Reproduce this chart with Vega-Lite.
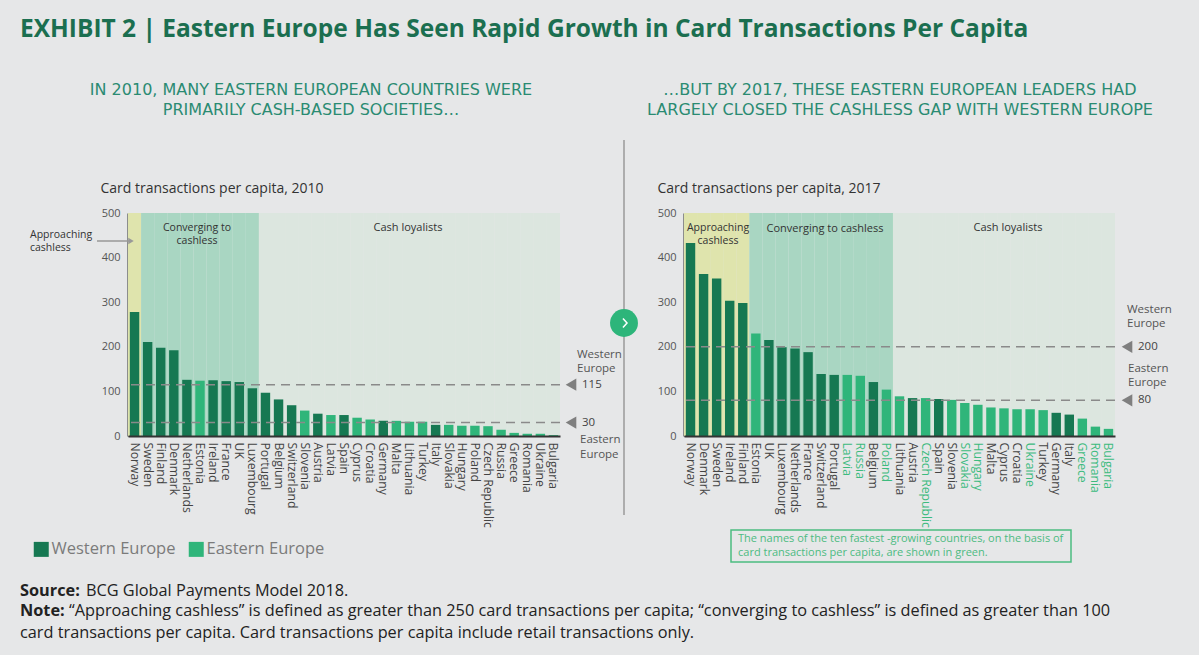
{
  "$schema": "https://vega.github.io/schema/vega-lite/v6.json",
  "background": "#e6e7e8",
  "padding": {"left": 20, "top": 16, "right": 27, "bottom": 13},
  "title": {"text": "EXHIBIT 2 | Eastern Europe Has Seen Rapid Growth in Card Transactions Per Capita", "anchor": "start", "font": "Open Sans", "fontSize": 24.5, "fontWeight": "bold", "color": "#1b6f50", "offset": 40},
  "config": {
    "font": "Open Sans",
    "view": {"stroke": null},
    "axisX": {"title": null, "labelAngle": 90, "labelAlign": "left", "labelBaseline": "middle", "ticks": false, "labelPadding": 6, "labelFontSize": 12.2, "labelColor": "#444", "domainColor": "#333", "domainWidth": 2, "labelLimit": 200, "labelFont": "Open Sans"},
    "axisY": {"values": [0, 100, 200, 300, 400, 500], "titleAngle": 0, "titleAlign": "left", "titleBaseline": "alphabetic", "titleY": -21, "titleFontSize": 14, "titleFontWeight": "normal", "titleColor": "#333", "titleFont": "Open Sans", "labelFontSize": 11, "labelColor": "#555", "labelPadding": 8, "ticks": false, "grid": false, "domainColor": "#333", "domainWidth": 2}
  },
  "datasets": {
    "y2010": [
      {"country": "Norway", "value": 278, "region": "Western Europe", "zone": "Approaching cashless"},
      {"country": "Sweden", "value": 211, "region": "Western Europe", "zone": "Converging to cashless"},
      {"country": "Finland", "value": 198, "region": "Western Europe", "zone": "Converging to cashless"},
      {"country": "Denmark", "value": 192, "region": "Western Europe", "zone": "Converging to cashless"},
      {"country": "Netherlands", "value": 126, "region": "Western Europe", "zone": "Converging to cashless"},
      {"country": "Estonia", "value": 124, "region": "Eastern Europe", "zone": "Converging to cashless"},
      {"country": "Ireland", "value": 125, "region": "Western Europe", "zone": "Converging to cashless"},
      {"country": "France", "value": 123, "region": "Western Europe", "zone": "Converging to cashless"},
      {"country": "UK", "value": 121, "region": "Western Europe", "zone": "Converging to cashless"},
      {"country": "Luxembourg", "value": 107, "region": "Western Europe", "zone": "Converging to cashless"},
      {"country": "Portugal", "value": 97, "region": "Western Europe", "zone": "Cash loyalists"},
      {"country": "Belgium", "value": 82, "region": "Western Europe", "zone": "Cash loyalists"},
      {"country": "Switzerland", "value": 69, "region": "Western Europe", "zone": "Cash loyalists"},
      {"country": "Slovenia", "value": 57, "region": "Eastern Europe", "zone": "Cash loyalists"},
      {"country": "Austria", "value": 50, "region": "Western Europe", "zone": "Cash loyalists"},
      {"country": "Latvia", "value": 47, "region": "Eastern Europe", "zone": "Cash loyalists"},
      {"country": "Spain", "value": 47, "region": "Western Europe", "zone": "Cash loyalists"},
      {"country": "Cyprus", "value": 41, "region": "Eastern Europe", "zone": "Cash loyalists"},
      {"country": "Croatia", "value": 37, "region": "Eastern Europe", "zone": "Cash loyalists"},
      {"country": "Germany", "value": 34, "region": "Western Europe", "zone": "Cash loyalists"},
      {"country": "Malta", "value": 34, "region": "Eastern Europe", "zone": "Cash loyalists"},
      {"country": "Lithuania", "value": 32, "region": "Eastern Europe", "zone": "Cash loyalists"},
      {"country": "Turkey", "value": 32, "region": "Eastern Europe", "zone": "Cash loyalists"},
      {"country": "Italy", "value": 25, "region": "Western Europe", "zone": "Cash loyalists"},
      {"country": "Slovakia", "value": 25, "region": "Eastern Europe", "zone": "Cash loyalists"},
      {"country": "Hungary", "value": 23, "region": "Eastern Europe", "zone": "Cash loyalists"},
      {"country": "Poland", "value": 23, "region": "Eastern Europe", "zone": "Cash loyalists"},
      {"country": "Czech Republic", "value": 22, "region": "Eastern Europe", "zone": "Cash loyalists"},
      {"country": "Russia", "value": 14, "region": "Eastern Europe", "zone": "Cash loyalists"},
      {"country": "Greece", "value": 7, "region": "Eastern Europe", "zone": "Cash loyalists"},
      {"country": "Romania", "value": 5, "region": "Eastern Europe", "zone": "Cash loyalists"},
      {"country": "Ukraine", "value": 5, "region": "Eastern Europe", "zone": "Cash loyalists"},
      {"country": "Bulgaria", "value": 2, "region": "Eastern Europe", "zone": "Cash loyalists"}
    ],
    "y2017": [
      {"country": "Norway", "value": 433, "region": "Western Europe", "zone": "Approaching cashless", "fastGrowing": false},
      {"country": "Denmark", "value": 363, "region": "Western Europe", "zone": "Approaching cashless", "fastGrowing": false},
      {"country": "Sweden", "value": 353, "region": "Western Europe", "zone": "Approaching cashless", "fastGrowing": false},
      {"country": "Ireland", "value": 303, "region": "Western Europe", "zone": "Approaching cashless", "fastGrowing": false},
      {"country": "Finland", "value": 298, "region": "Western Europe", "zone": "Approaching cashless", "fastGrowing": false},
      {"country": "Estonia", "value": 230, "region": "Eastern Europe", "zone": "Converging to cashless", "fastGrowing": false},
      {"country": "UK", "value": 215, "region": "Western Europe", "zone": "Converging to cashless", "fastGrowing": false},
      {"country": "Luxembourg", "value": 199, "region": "Western Europe", "zone": "Converging to cashless", "fastGrowing": false},
      {"country": "Netherlands", "value": 196, "region": "Western Europe", "zone": "Converging to cashless", "fastGrowing": false},
      {"country": "France", "value": 188, "region": "Western Europe", "zone": "Converging to cashless", "fastGrowing": false},
      {"country": "Switzerland", "value": 139, "region": "Western Europe", "zone": "Converging to cashless", "fastGrowing": false},
      {"country": "Portugal", "value": 137, "region": "Western Europe", "zone": "Converging to cashless", "fastGrowing": false},
      {"country": "Latvia", "value": 137, "region": "Eastern Europe", "zone": "Converging to cashless", "fastGrowing": true},
      {"country": "Russia", "value": 135, "region": "Eastern Europe", "zone": "Converging to cashless", "fastGrowing": true},
      {"country": "Belgium", "value": 121, "region": "Western Europe", "zone": "Converging to cashless", "fastGrowing": false},
      {"country": "Poland", "value": 104, "region": "Eastern Europe", "zone": "Converging to cashless", "fastGrowing": true},
      {"country": "Lithuania", "value": 89, "region": "Eastern Europe", "zone": "Cash loyalists", "fastGrowing": false},
      {"country": "Austria", "value": 85, "region": "Western Europe", "zone": "Cash loyalists", "fastGrowing": false},
      {"country": "Czech Republic", "value": 85, "region": "Eastern Europe", "zone": "Cash loyalists", "fastGrowing": true},
      {"country": "Spain", "value": 83, "region": "Western Europe", "zone": "Cash loyalists", "fastGrowing": false},
      {"country": "Slovenia", "value": 81, "region": "Eastern Europe", "zone": "Cash loyalists", "fastGrowing": false},
      {"country": "Slovakia", "value": 74, "region": "Eastern Europe", "zone": "Cash loyalists", "fastGrowing": true},
      {"country": "Hungary", "value": 70, "region": "Eastern Europe", "zone": "Cash loyalists", "fastGrowing": true},
      {"country": "Malta", "value": 64, "region": "Eastern Europe", "zone": "Cash loyalists", "fastGrowing": false},
      {"country": "Cyprus", "value": 62, "region": "Eastern Europe", "zone": "Cash loyalists", "fastGrowing": false},
      {"country": "Croatia", "value": 60, "region": "Eastern Europe", "zone": "Cash loyalists", "fastGrowing": false},
      {"country": "Ukraine", "value": 60, "region": "Eastern Europe", "zone": "Cash loyalists", "fastGrowing": true},
      {"country": "Turkey", "value": 58, "region": "Eastern Europe", "zone": "Cash loyalists", "fastGrowing": false},
      {"country": "Germany", "value": 52, "region": "Western Europe", "zone": "Cash loyalists", "fastGrowing": false},
      {"country": "Italy", "value": 48, "region": "Western Europe", "zone": "Cash loyalists", "fastGrowing": false},
      {"country": "Greece", "value": 39, "region": "Eastern Europe", "zone": "Cash loyalists", "fastGrowing": true},
      {"country": "Romania", "value": 21, "region": "Eastern Europe", "zone": "Cash loyalists", "fastGrowing": true},
      {"country": "Bulgaria", "value": 16, "region": "Eastern Europe", "zone": "Cash loyalists", "fastGrowing": true}
    ]
  },
  "bounds": "flush",
  "spacing": 124,
  "hconcat": [
    {
      "width": 432,
      "height": 223,
      "data": {"name": "y2010"},
      "resolve": {"scale": {"color": "independent"}},
      "layer": [
        {
          "mark": {"type": "rect"},
          "encoding": {
            "x": {"field": "country", "type": "nominal", "sort": null, "scale": {"paddingInner": 0, "paddingOuter": 0}},
            "y": {"datum": 0, "type": "quantitative", "scale": {"domain": [0, 500], "nice": false}, "axis": {"title": "Card transactions per capita, 2010", "titleX": -28}},
            "y2": {"datum": 500},
            "color": {"field": "zone", "type": "nominal", "scale": {"domain": ["Approaching cashless", "Converging to cashless", "Cash loyalists"], "range": ["#dfe4ad", "#a9d6c2", "#dce6df"]}, "legend": null}
          }
        },
        {
          "mark": {"type": "bar", "width": {"band": 0.72}},
          "encoding": {
            "x": {"field": "country", "type": "nominal", "sort": null},
            "y": {"field": "value", "type": "quantitative"},
            "color": {"field": "region", "type": "nominal", "scale": {"domain": ["Western Europe", "Eastern Europe"], "range": ["#167852", "#2fb57a"]},
              "legend": {"orient": "none", "legendX": -95, "legendY": 328, "direction": "horizontal", "title": null, "symbolType": "square", "symbolSize": 225, "symbolStrokeWidth": 0, "symbolOpacity": 1, "labelFontSize": 16.5, "labelColor": "#7b7b7b", "labelFont": "Open Sans", "columnPadding": 12, "labelOffset": 2, "labelLimit": 300}}
          }
        },
        {"data": {"values": [{"level": 115}, {"level": 30}]}, "mark": {"type": "rule", "color": "#8a8a8a", "strokeWidth": 1.5, "strokeDash": [9, 6]}, "encoding": {"y": {"field": "level", "type": "quantitative"}}},
        {"data": {"values": [{"level": 115}, {"level": 30}]}, "mark": {"type": "point", "shape": "triangle-left", "filled": true, "size": 150, "color": "#7f7f7f", "opacity": 1}, "encoding": {"x": {"value": 443}, "y": {"field": "level", "type": "quantitative"}}},
        {"data": {"values": [{"level": 115}, {"level": 30}]}, "mark": {"type": "text", "align": "left", "baseline": "middle", "fontSize": 11.5, "color": "#444"}, "encoding": {"x": {"value": 454}, "y": {"field": "level", "type": "quantitative"}, "text": {"field": "level", "type": "quantitative"}}},
        {"data": {"values": [{}]}, "mark": {"type": "text", "text": ["IN 2010, MANY EASTERN EUROPEAN COUNTRIES WERE", "PRIMARILY CASH-BASED SOCIETIES…"], "align": "center", "baseline": "top", "font": "DejaVu Sans", "fontSize": 16, "lineHeight": 20, "color": "#2a8b72"}, "encoding": {"x": {"value": 183}, "y": {"value": -131}}},
        {"data": {"values": [{}]}, "mark": {"type": "text", "text": ["Approaching", "cashless"], "align": "left", "baseline": "top", "fontSize": 10.5, "lineHeight": 12.5, "color": "#333"}, "encoding": {"x": {"value": -98}, "y": {"value": 17}}},
        {"data": {"values": [{}]}, "mark": {"type": "rule", "color": "#999", "strokeWidth": 1.5}, "encoding": {"x": {"value": -31}, "x2": {"value": 1}, "y": {"value": 28}}},
        {"data": {"values": [{}]}, "mark": {"type": "point", "shape": "triangle-right", "filled": true, "size": 40, "color": "#999", "opacity": 1}, "encoding": {"x": {"value": 3}, "y": {"value": 28}}},
        {"data": {"values": [{}]}, "mark": {"type": "text", "text": ["Converging to", "cashless"], "align": "center", "baseline": "top", "fontSize": 10.5, "lineHeight": 13, "color": "#333"}, "encoding": {"x": {"value": 69}, "y": {"value": 10}}},
        {"data": {"values": [{}]}, "mark": {"type": "text", "text": "Cash loyalists", "align": "center", "baseline": "top", "fontSize": 11, "color": "#333"}, "encoding": {"x": {"value": 280}, "y": {"value": 9}}},
        {"data": {"values": [{}]}, "mark": {"type": "text", "text": ["Western", "Europe"], "align": "left", "baseline": "top", "fontSize": 11.5, "lineHeight": 14, "color": "#555"}, "encoding": {"x": {"value": 449}, "y": {"value": 136}}},
        {"data": {"values": [{}]}, "mark": {"type": "text", "text": ["Eastern", "Europe"], "align": "left", "baseline": "top", "fontSize": 11.5, "lineHeight": 15, "color": "#555"}, "encoding": {"x": {"value": 452}, "y": {"value": 221}}},
        {"data": {"values": [{}]}, "mark": {"type": "text", "text": "Source:", "align": "left", "baseline": "alphabetic", "fontSize": 16.3, "fontWeight": "bold", "color": "#222"}, "encoding": {"x": {"value": -108}, "y": {"value": 383}}},
        {"data": {"values": [{}]}, "mark": {"type": "text", "text": "BCG Global Payments Model 2018.", "align": "left", "baseline": "alphabetic", "fontSize": 16.3, "color": "#222"}, "encoding": {"x": {"value": -42}, "y": {"value": 383}}},
        {"data": {"values": [{}]}, "mark": {"type": "text", "text": "Note:", "align": "left", "baseline": "alphabetic", "fontSize": 16.3, "fontWeight": "bold", "color": "#222"}, "encoding": {"x": {"value": -108}, "y": {"value": 403}}},
        {"data": {"values": [{}]}, "mark": {"type": "text", "text": "“Approaching cashless” is defined as greater than 250 card transactions per capita; “converging to cashless” is defined as greater than 100", "align": "left", "baseline": "alphabetic", "fontSize": 16.3, "color": "#222"}, "encoding": {"x": {"value": -59}, "y": {"value": 403}}},
        {"data": {"values": [{}]}, "mark": {"type": "text", "text": "card transactions per capita. Card transactions per capita include retail transactions only.", "align": "left", "baseline": "alphabetic", "fontSize": 16.3, "color": "#222"}, "encoding": {"x": {"value": -108}, "y": {"value": 425}}}
      ]
    },
    {
      "width": 431,
      "height": 223,
      "data": {"name": "y2017"},
      "resolve": {"scale": {"color": "independent"}},
      "layer": [
        {
          "mark": {"type": "rect"},
          "encoding": {
            "x": {"field": "country", "type": "nominal", "sort": null, "scale": {"paddingInner": 0, "paddingOuter": 0},
              "axis": {"labelColor": {"condition": {"test": "indexof(['Latvia','Russia','Poland','Czech Republic','Slovakia','Hungary','Ukraine','Greece','Romania','Bulgaria'], datum.value) >= 0", "value": "#3dbb7e"}, "value": "#444"}}},
            "y": {"datum": 0, "type": "quantitative", "scale": {"domain": [0, 500], "nice": false}, "axis": {"title": "Card transactions per capita, 2017", "titleX": -27}},
            "y2": {"datum": 500},
            "color": {"field": "zone", "type": "nominal", "scale": {"domain": ["Approaching cashless", "Converging to cashless", "Cash loyalists"], "range": ["#dfe4ad", "#a9d6c2", "#dce6df"]}, "legend": null}
          }
        },
        {
          "mark": {"type": "bar", "width": {"band": 0.72}},
          "encoding": {
            "x": {"field": "country", "type": "nominal", "sort": null},
            "y": {"field": "value", "type": "quantitative"},
            "color": {"field": "region", "type": "nominal", "scale": {"domain": ["Western Europe", "Eastern Europe"], "range": ["#167852", "#2fb57a"]}, "legend": null}
          }
        },
        {"data": {"values": [{"level": 200}, {"level": 80}]}, "mark": {"type": "rule", "color": "#8a8a8a", "strokeWidth": 1.5, "strokeDash": [9, 6]}, "encoding": {"y": {"field": "level", "type": "quantitative"}}},
        {"data": {"values": [{"level": 200}, {"level": 80}]}, "mark": {"type": "point", "shape": "triangle-left", "filled": true, "size": 150, "color": "#7f7f7f", "opacity": 1}, "encoding": {"x": {"value": 443}, "y": {"field": "level", "type": "quantitative"}}},
        {"data": {"values": [{"level": 200}, {"level": 80}]}, "mark": {"type": "text", "align": "left", "baseline": "middle", "fontSize": 11.5, "color": "#444"}, "encoding": {"x": {"value": 454}, "y": {"field": "level", "type": "quantitative"}, "text": {"field": "level", "type": "quantitative"}}},
        {"data": {"values": [{}]}, "mark": {"type": "text", "text": ["…BUT BY 2017, THESE EASTERN EUROPEAN LEADERS HAD", "LARGELY CLOSED THE CASHLESS GAP WITH WESTERN EUROPE"], "align": "center", "baseline": "top", "font": "DejaVu Sans", "fontSize": 16, "lineHeight": 20, "color": "#2a8b72"}, "encoding": {"x": {"value": 216}, "y": {"value": -131}}},
        {"data": {"values": [{}]}, "mark": {"type": "rule", "color": "#9a9a9a", "strokeWidth": 1.5}, "encoding": {"x": {"value": -60}, "y": {"value": -73}, "y2": {"value": 302}}},
        {"data": {"values": [{}]}, "mark": {"type": "point", "shape": "circle", "filled": true, "size": 780, "color": "#2db57a", "opacity": 1}, "encoding": {"x": {"value": -60}, "y": {"value": 110}}},
        {"data": {"values": [{}]}, "mark": {"type": "point", "shape": "M-0.22,-0.5L0.22,0L-0.22,0.5", "filled": false, "size": 340, "stroke": "#ffffff", "strokeWidth": 1.5, "opacity": 1}, "encoding": {"x": {"value": -59}, "y": {"value": 110}}},
        {"data": {"values": [{}]}, "mark": {"type": "text", "text": ["Approaching", "cashless"], "align": "center", "baseline": "top", "fontSize": 10.5, "lineHeight": 13, "color": "#333"}, "encoding": {"x": {"value": 34}, "y": {"value": 10}}},
        {"data": {"values": [{}]}, "mark": {"type": "text", "text": "Converging to cashless", "align": "center", "baseline": "top", "fontSize": 11, "color": "#333"}, "encoding": {"x": {"value": 141}, "y": {"value": 10}}},
        {"data": {"values": [{}]}, "mark": {"type": "text", "text": "Cash loyalists", "align": "center", "baseline": "top", "fontSize": 11, "color": "#333"}, "encoding": {"x": {"value": 324}, "y": {"value": 9}}},
        {"data": {"values": [{}]}, "mark": {"type": "text", "text": ["Western", "Europe"], "align": "left", "baseline": "top", "fontSize": 11.5, "lineHeight": 14, "color": "#555"}, "encoding": {"x": {"value": 443}, "y": {"value": 91}}},
        {"data": {"values": [{}]}, "mark": {"type": "text", "text": ["Eastern", "Europe"], "align": "left", "baseline": "top", "fontSize": 11.5, "lineHeight": 14, "color": "#555"}, "encoding": {"x": {"value": 444}, "y": {"value": 150}}},
        {"data": {"values": [{}]}, "mark": {"type": "rect", "fill": null, "fillOpacity": 0, "stroke": "#4cbd80", "strokeWidth": 1.5}, "encoding": {"x": {"value": 47}, "x2": {"value": 387}, "y": {"value": 317}, "y2": {"value": 349}}},
        {"data": {"values": [{}]}, "mark": {"type": "text", "text": ["The names of the ten fastest -growing countries, on the basis of", "card transactions per capita, are shown in green."], "align": "left", "baseline": "top", "fontSize": 11, "lineHeight": 14, "color": "#4dbb82"}, "encoding": {"x": {"value": 54}, "y": {"value": 320}}}
      ]
    }
  ]
}
